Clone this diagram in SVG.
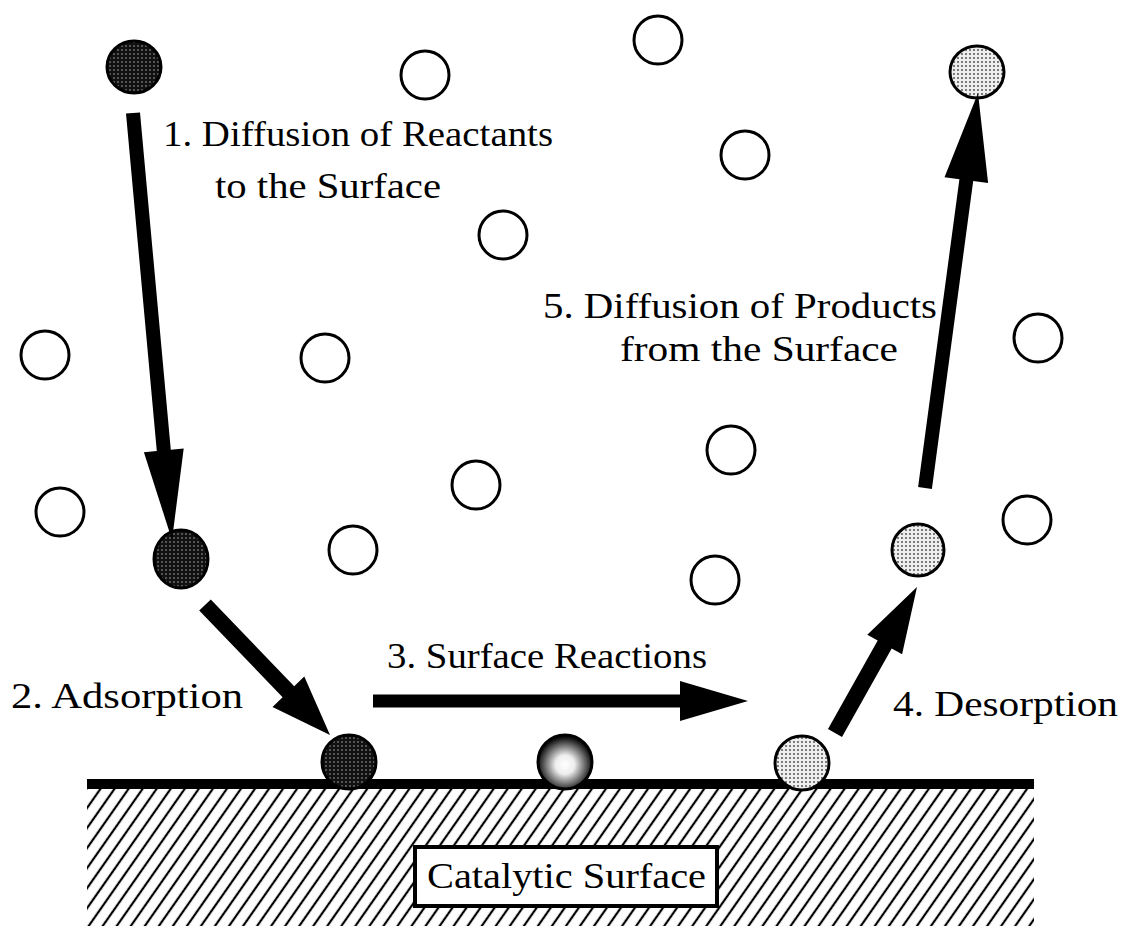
<svg xmlns="http://www.w3.org/2000/svg" width="1124" height="926" viewBox="0 0 1124 926">
<style>
.lbl{font-family:"Liberation Serif","DejaVu Serif",serif;font-size:36px;fill:#000}
.open{fill:#fff;stroke:#000;stroke-width:3}
.dark{fill:url(#darkDots);stroke:#000;stroke-width:3}
.light{fill:url(#lightDots);stroke:#000;stroke-width:3}
.arrow{fill:#000}
</style>
<defs>
<pattern id="darkDots" width="4" height="4" patternUnits="userSpaceOnUse">
<rect width="4" height="4" fill="#111"/>
<circle cx="2" cy="2" r="0.8" fill="#aaa"/>
</pattern>
<pattern id="lightDots" width="4" height="4" patternUnits="userSpaceOnUse">
<rect width="4" height="4" fill="#eee"/>
<circle cx="2" cy="2" r="0.9" fill="#444"/>
</pattern>
<radialGradient id="midGrad" cx="0.5" cy="0.55" r="0.5">
<stop offset="0" stop-color="#fff"/>
<stop offset="0.35" stop-color="#eee"/>
<stop offset="0.75" stop-color="#666"/>
<stop offset="1" stop-color="#111"/>
</radialGradient>
<pattern id="hatch" width="11.5" height="40" patternUnits="userSpaceOnUse" patternTransform="rotate(35)">
<rect width="11.5" height="40" fill="#fff"/>
<line x1="5.75" y1="0" x2="5.75" y2="40" stroke="#000" stroke-width="2.2"/>
</pattern>
</defs>
<rect width="1124" height="926" fill="#fff"/>

<g id="surface">
<rect x="87" y="789" width="947" height="137" fill="url(#hatch)"/>
<rect x="87" y="779" width="947" height="10" fill="#000"/>
</g>
<g id="catalytic-box">
<rect x="415" y="847" width="302" height="59" fill="#fff" stroke="#000" stroke-width="4"/>
<text class="lbl" x="427" y="888" textLength="279" lengthAdjust="spacingAndGlyphs">Catalytic Surface</text>
</g>

<g id="gas-molecules">
<circle class="open" cx="425" cy="75" r="24"/>
<circle class="open" cx="658" cy="40" r="24"/>
<circle class="open" cx="745" cy="155" r="24"/>
<circle class="open" cx="503" cy="235" r="24"/>
<circle class="open" cx="45" cy="355" r="24"/>
<circle class="open" cx="325" cy="358" r="24"/>
<circle class="open" cx="1038" cy="338" r="24"/>
<circle class="open" cx="731" cy="450" r="24"/>
<circle class="open" cx="476" cy="485" r="24"/>
<circle class="open" cx="60" cy="512" r="24"/>
<circle class="open" cx="353" cy="550" r="24"/>
<circle class="open" cx="715" cy="580" r="24"/>
<circle class="open" cx="1027" cy="520" r="24"/>
</g>

<g id="reactant-top"><ellipse class="dark" cx="134" cy="67" rx="27" ry="26"/></g>
<g id="reactant-near"><ellipse class="dark" cx="181" cy="559" rx="27" ry="29"/></g>
<g id="adsorbed-reactant"><ellipse class="dark" cx="349" cy="762" rx="27" ry="27"/></g>
<g id="adsorbed-intermediate"><ellipse cx="565" cy="762" rx="27" ry="27" fill="url(#midGrad)" stroke="#000" stroke-width="3"/></g>
<g id="adsorbed-product"><ellipse class="light" cx="802" cy="763" rx="27" ry="27"/></g>
<g id="product-near"><ellipse class="light" cx="918" cy="550" rx="26" ry="26"/></g>
<g id="product-top"><ellipse class="light" cx="977" cy="72" rx="27" ry="26"/></g>

<g id="connectors">
<polygon class="arrow" points="126.0,113.6 156.8,451.0 143.9,452.2 172,540 183.7,448.6 170.8,449.8 140.0,112.4"/>
<polygon class="arrow" points="199.2,610.5 282.6,697.2 272.5,706.9 330,735 304.3,676.5 294.2,686.2 210.8,599.5"/>
<polygon class="arrow" points="373,694.5 680,694.5 680,681 748,701 680,721 680,707.5 373,707.5"/>
<polygon class="arrow" points="828.0,729.1 877.7,640.6 867.3,634.7 917,587 902.1,654.3 891.7,648.4 842.0,736.9"/>
<polygon class="arrow" points="918.1,487.1 959.4,179.3 944.5,177.3 978,93 988.1,183.1 973.2,181.1 931.9,488.9"/>
</g>

<g id="labels">
<text class="lbl" x="163" y="146" textLength="390" lengthAdjust="spacingAndGlyphs">1. Diffusion of Reactants</text>
<text class="lbl" x="215" y="198" textLength="226" lengthAdjust="spacingAndGlyphs">to the Surface</text>
<text class="lbl" x="543" y="318" textLength="394" lengthAdjust="spacingAndGlyphs">5. Diffusion of Products</text>
<text class="lbl" x="620" y="361" textLength="278" lengthAdjust="spacingAndGlyphs">from the Surface</text>
<text class="lbl" x="11" y="708" textLength="232" lengthAdjust="spacingAndGlyphs">2. Adsorption</text>
<text class="lbl" x="387" y="668" textLength="320" lengthAdjust="spacingAndGlyphs">3. Surface Reactions</text>
<text class="lbl" x="893" y="716" textLength="225" lengthAdjust="spacingAndGlyphs">4. Desorption</text>
</g>
</svg>
